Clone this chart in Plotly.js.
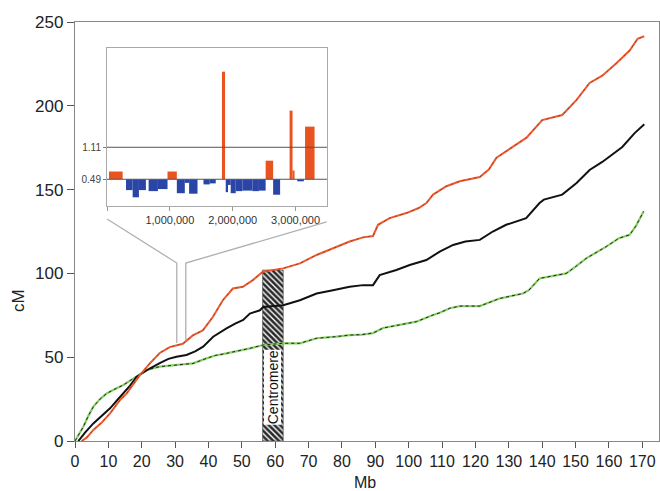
<!DOCTYPE html>
<html>
<head>
<meta charset="utf-8">
<script src="https://cdn.plot.ly/plotly-3.0.1.min.js"></script>
<style>html,body{margin:0;padding:0;background:#fff;}#chart{width:660px;height:491px;}</style>
</head>
<body>
<div id="chart"></div>
<script>
// ---- Main chart data: cumulative genetic map (cM) vs physical position (Mb)
var redMb   = [2,3.5,5.5,8,10.5,13.5,15.5,17.5,19.5,22.5,25.4,28.4,30.5,32.3,35.3,38.3,41.3,44.3,47.3,50.3,53.3,56.3,62.4,67.4,72.4,77.3,82.3,86.3,89.3,90.8,94.3,99.3,103,105.3,107.3,111.3,115.3,121.3,124,126.3,131,135.3,140,146,150.3,154.2,158,162.3,166.2,168.6,170.6];
var redCM   = [0,2,6.6,11,16.5,24.5,28.4,34,39.4,46.5,52.5,56,57,58,63,66,74,84,91,92,96,101,103,106,111,115,119,121.5,122.3,129,133,136,139,142,147,152,155,157.5,162,169,175,181,191.5,194.5,203.5,213.6,218,225.5,233,240,241.5];

var blackMb = [1,3,5.5,8,10.5,12.5,14.5,16.5,18.5,20.5,22.5,25.4,28,30.4,33.4,36,38.4,41.4,43.5,45.4,48,50.4,52.4,55.4,56.4,62.4,67.4,72.4,77.3,82.3,86.3,89.3,91.3,96.3,100.3,105.3,109.3,113.3,117,121.3,125.2,129.2,135.2,139.2,140.5,146,150.3,154.2,158,164,167.7,170.6];
var blackCM = [0,5,10.5,15,19.5,24,28.4,33,38.4,41,43.4,46.4,49,50.3,51.3,53.5,56.3,62.2,65,67.2,70,72.2,76,78,80,81,84,88,90,92,93,93,99,102,105,108,113,117,119,120,125,129,133,142,144,147,154,161.7,166.5,175.4,183.7,189];

var greenMb = [0,1.5,2.5,4,5.5,7.5,9.5,12,14.5,16.5,18.5,21.5,25.4,30.4,35.4,39.4,42,45.4,50.4,52.4,56.4,62.4,67.4,72.4,78.3,82.3,86,89.3,92.3,97.3,102.3,107.3,109.3,112.3,115.3,121.3,127.2,134.2,136,139.2,143,147.2,150,153.2,159.2,163,166.2,168,170.4];
var greenCM = [0,5,8.5,15,20.5,25,28.4,31,33.4,36,38.4,42.4,44.4,45.3,46.3,49.3,51,52.3,54.3,55.3,57.3,58.3,58.3,61.3,62.3,63.2,63.5,64.4,67.4,69.2,71.2,75.2,76.5,79.2,80.5,80.5,85,88,90,97,98.5,100,104,109,116,121,123,128,137];

// centromere region (Mb) and its drawn height (cM)
var centromereStart = 56.2;
var centromereEnd   = 62.4;
var centromereTop   = 102;

// main axis ticks
var xTicks = [0,10,20,30,40,50,60,70,80,90,100,110,120,130,140,150,160,170];
var yTicks = [0,50,100,150,200,250];

// ---- Inset data: ratio per window (bp), baseline 0.49, threshold 1.11
var insetStart = [32000,302000,408000,508000,662000,810000,963000,1111000,1238000,1306000,1535000,1635000,1829000,1889000,1925000,1968000,2048000,2154000,2313000,2417000,2524000,2643000,2905000,2952000,3027000,3151000];
var insetEnd   = [249000,408000,508000,619000,810000,963000,1111000,1238000,1306000,1440000,1635000,1730000,1878000,1925000,1968000,2048000,2154000,2313000,2417000,2524000,2643000,2754000,2952000,2984000,3132000,3302000];
var insetRatio = [0.64,0.28,0.14,0.28,0.26,0.30,0.64,0.22,0.42,0.21,0.39,0.41,2.575,0.24,0.38,0.22,0.26,0.27,0.26,0.27,0.85,0.19,1.82,0.66,0.45,1.51];
var insetBaseline = 0.49;
var insetThreshold = 1.11;
var insetXTicks = [0,1000000,2000000,3000000];
var insetXLabels = ['', '1,000,000', '2,000,000', '3,000,000'];

// ---- build traces
var FONT = 'Liberation Sans, Arial, sans-serif';
var ORANGE = '#e8531f';
var BLUE = '#2b45a6';

var centromere = {
  type: 'bar', xaxis: 'x', yaxis: 'y',
  x: [(centromereStart + centromereEnd) / 2],
  y: [centromereTop],
  width: [centromereEnd - centromereStart],
  marker: {color: '#ffffff', line: {color: '#444', width: 0.6},
           pattern: {shape: '\\', fgcolor: '#2a2a2a', bgcolor: '#ffffff', size: 4, solidity: 0.65}},
  hoverinfo: 'skip', showlegend: false
};

var greenLine = {type: 'scatter', mode: 'lines', x: greenMb, y: greenCM, xaxis: 'x', yaxis: 'y',
  line: {color: '#86d064', width: 2.2}, showlegend: false, hoverinfo: 'skip'};
var greenDash = {type: 'scatter', mode: 'lines', x: greenMb, y: greenCM, xaxis: 'x', yaxis: 'y',
  line: {color: '#222', width: 1, dash: '3px,3px'}, showlegend: false, hoverinfo: 'skip'};
var redLine = {type: 'scatter', mode: 'lines', x: redMb, y: redCM, xaxis: 'x', yaxis: 'y',
  line: {color: '#ec5a30', width: 2}, showlegend: false, hoverinfo: 'skip'};
var redDash = {type: 'scatter', mode: 'lines', x: redMb, y: redCM, xaxis: 'x', yaxis: 'y',
  line: {color: '#5a1c0c', width: 0.7, dash: '2px,4px'}, opacity: 0.7, showlegend: false, hoverinfo: 'skip'};
var blackLine = {type: 'scatter', mode: 'lines', x: blackMb, y: blackCM, xaxis: 'x', yaxis: 'y',
  line: {color: '#111', width: 2}, showlegend: false, hoverinfo: 'skip'};

var insetX = [], insetW = [], insetY = [], insetC = [];
for (var i = 0; i < insetRatio.length; i++) {
  insetX.push((insetStart[i] + insetEnd[i]) / 2);
  insetW.push(insetEnd[i] - insetStart[i]);
  insetY.push(insetRatio[i] - insetBaseline);
  insetC.push(insetRatio[i] > insetBaseline ? ORANGE : BLUE);
}
var insetBars = {
  type: 'bar', xaxis: 'x2', yaxis: 'y2',
  x: insetX, y: insetY, base: insetBaseline, width: insetW,
  marker: {color: insetC, line: {width: 0}},
  hoverinfo: 'skip', showlegend: false
};

var layout = {
  width: 660, height: 491,
  margin: {l: 75, r: 1, t: 22, b: 50},
  paper_bgcolor: '#fff', plot_bgcolor: '#fff',
  barmode: 'overlay',
  showlegend: false,
  font: {family: FONT, color: '#222'},
  xaxis: {
    range: [0, 175], domain: [0, 1],
    tickvals: xTicks, ticktext: xTicks.map(String),
    ticks: 'outside', ticklen: 6, tickcolor: '#555', tickwidth: 1,
    showline: true, linecolor: '#888', linewidth: 1.2, mirror: true,
    showgrid: false, zeroline: false,
    tickfont: {size: 16, family: FONT, color: '#222'}
  },
  yaxis: {
    range: [0, 250], domain: [0, 1],
    tickvals: yTicks, ticktext: yTicks.map(String),
    ticks: 'outside', ticklen: 7, tickcolor: '#555', tickwidth: 1,
    showline: true, linecolor: '#888', linewidth: 1.2, mirror: true,
    showgrid: false, zeroline: false,
    tickfont: {size: 17, family: FONT, color: '#222'}
  },
  xaxis2: {
    anchor: 'y2', domain: [0.0548, 0.4315],
    range: [0, 3500000],
    tickvals: insetXTicks, ticktext: insetXLabels,
    ticks: 'outside', ticklen: 4, tickcolor: '#999',
    showline: true, linecolor: '#aaa', linewidth: 1, mirror: true,
    showgrid: false, zeroline: false,
    tickfont: {size: 11, family: FONT, color: '#333'}
  },
  yaxis2: {
    anchor: 'x2', domain: [0.561, 0.938],
    range: [-0.027, 3.034],
    tickvals: [insetBaseline, insetThreshold], ticktext: ['0.49', '1.11'],
    ticks: 'outside', ticklen: 3, tickcolor: '#777',
    showline: true, linecolor: '#aaa', linewidth: 1, mirror: true,
    showgrid: false, zeroline: false,
    tickfont: {size: 10, family: FONT, color: '#444'}
  },
  shapes: [
    {type: 'line', xref: 'x2 domain', yref: 'y2', x0: 0, x1: 1, y0: insetBaseline, y1: insetBaseline,
     line: {color: '#555', width: 1}, layer: 'above'},
    {type: 'line', xref: 'x2 domain', yref: 'y2', x0: 0, x1: 1, y0: insetThreshold, y1: insetThreshold,
     line: {color: '#555', width: 1}, layer: 'above'},
    {type: 'path', xref: 'x', yref: 'y', path: 'M 9.6 132.5 L 30.5 106.2 L 30.5 58.5',
     line: {color: '#b0b0b0', width: 1.3}},
    {type: 'path', xref: 'x', yref: 'y', path: 'M 75.4 130.7 L 33.2 106.2 L 33.2 60.3',
     line: {color: '#b0b0b0', width: 1.3}}
  ],
  annotations: [
    {text: 'Centromere', xref: 'x', yref: 'y', x: (centromereStart + centromereEnd) / 2, y: 32,
     textangle: -90, showarrow: false, bgcolor: '#ffffff', borderpad: 0,
     font: {size: 14, family: FONT, color: '#111'}},
    {text: 'cM', xref: 'paper', yref: 'paper', x: -0.097, y: 0.335, xanchor: 'center', yanchor: 'middle', textangle: -90, showarrow: false,
     font: {size: 17, family: FONT, color: '#222'}},
    {text: 'Mb', xref: 'paper', yref: 'paper', x: 0.497, y: -0.098, yanchor: 'middle', showarrow: false,
     font: {size: 16, family: FONT, color: '#222'}}
  ]
};

Plotly.newPlot('chart', [centromere, greenLine, greenDash, blackLine, redLine, redDash, insetBars], layout,
  {staticPlot: true, displayModeBar: false});
</script>
</body>
</html>
